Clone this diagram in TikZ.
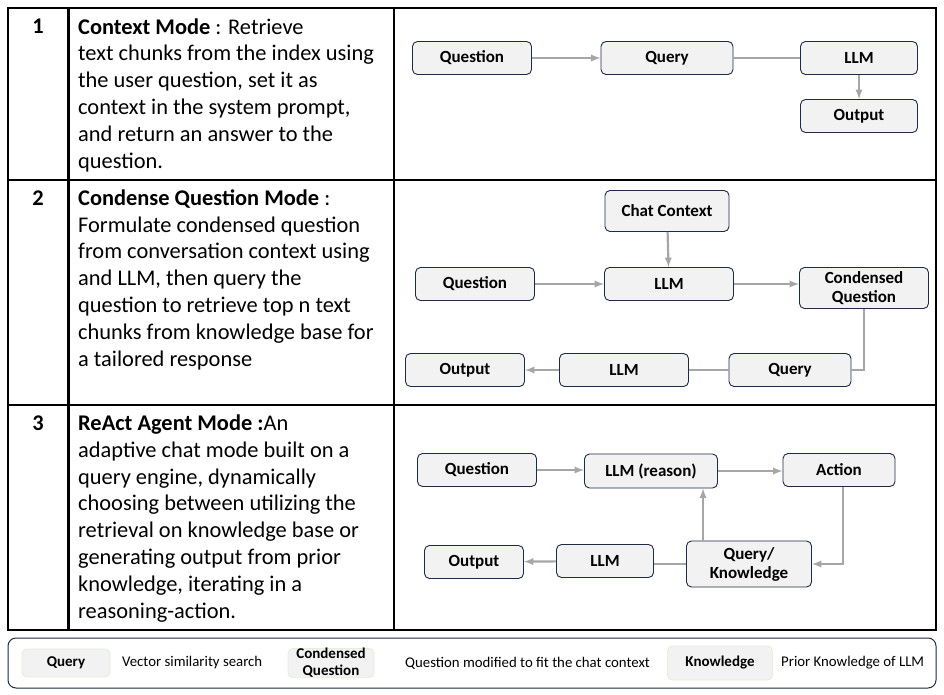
\documentclass[tikz,border=0pt]{standalone}
\usepackage{fontspec}
\setmainfont{Carlito}
\usepackage{xcolor}
\usetikzlibrary{positioning}
\definecolor{boxfill}{HTML}{F2F2F2}
\definecolor{boxline}{HTML}{1F2A44}
\definecolor{flowgray}{HTML}{A6A6A6}
\definecolor{keyline}{HTML}{E2EFD9}
\tikzset{
	stage/.style   = {shape=rectangle, rounded corners=5pt,
		draw=boxline, line width=0.9pt, fill=boxfill,
		align=center, inner sep=0pt,
		font=\fontsize{17}{19}\selectfont\bfseries},
	wh/.style 2 args = {minimum width=#1, minimum height=#2},
	keybox/.style  = {stage, draw=keyline, font=\fontsize{15}{17}\selectfont\bfseries},
	keytext/.style = {anchor=west, inner sep=0pt, font=\fontsize{14.8}{17}\selectfont},
	desc/.style    = {anchor=base west, align=left, inner sep=0pt,
		font=\fontsize{22.4}{26.8}\selectfont},
	num/.style     = {anchor=base, inner sep=0pt, font=\fontsize{22.4}{26.8}\selectfont\bfseries},
	flow/.style    = {draw=flowgray, line width=2.2pt, -latex},
	link/.style    = {draw=flowgray, line width=2.2pt}
}

\begin{document}
\begin{tikzpicture}[x=1pt, y=-1pt]
\useasboundingbox (0,0) rectangle (944,695);

% table grid
\draw[line width=2pt] (8,8) rectangle (936,630);
\draw[line width=2pt] (8,180) -- (936,180);
\draw[line width=2pt] (8,405) -- (936,405);
\draw[line width=3pt] (68,8) -- (68,630);
\draw[line width=1.6pt] (394,8) -- (394,630);

% left column (desc nodes sit on the baseline of their last line)
\node[num] (n1) at (38,34) {1};
\node[num] (n2) at (38,205) {2};
\node[num] (n3) at (38,430) {3};
\node[desc] (d1) at (78,168) {\textbf{Context Mode} : Retrieve\\
	text chunks from the index using\\
	the user question, set it as\\
	context in the system prompt,\\
	and return an answer to the\\
	question.};
\node[desc] (d2) at (78,366) {\textbf{Condense Question Mode} :\\
	Formulate condensed question\\
	from conversation context using\\
	and LLM, then query the\\
	question to retrieve top n text\\
	chunks from knowledge base for\\
	a tailored response};
\node[desc] (d3) at (78,618) {\textbf{ReAct Agent Mode :}An\\
	adaptive chat mode built on a\\
	query engine, dynamically\\
	choosing between utilizing the\\
	retrieval on knowledge base or\\
	generating output from prior\\
	knowledge, iterating in a\\
	reasoning-action.};

% mode 1
\node[stage, wh={119}{33}] (question1) at (472,58) {Question};
\node[stage, wh={132}{33}] (query1) at (667,58) {Query};
\node[stage, wh={117}{33}] (llm1) at (859,58) {LLM};
\node[stage, wh={117}{33}] (output1) at (859,116) {Output};
\draw[flow] (question1) -- (query1);
\draw[link] (query1) -- (llm1);
\draw[flow] (llm1) -- (output1);

% mode 2
\node[stage, wh={124}{41}] (context2) at (667,211) {Chat Context};
\node[stage, wh={119}{33}] (question2) at (475,284) {Question};
\node[stage, wh={129}{33}] (llm2) at (669,284) {LLM};
\node[stage, wh={129}{41}] (condensed2) at (864,288) {Condensed\\Question};
\node[stage, wh={119}{33}] (output2) at (465,370) {Output};
\node[stage, wh={129}{33}] (answer2) at (624,370) {LLM};
\node[stage, wh={122}{33}] (query2) at (790,370) {Query};
\draw[flow] (context2) -- (llm2);
\draw[flow] (question2) -- (llm2);
\draw[flow] (llm2.east) -- (llm2.east -| condensed2.west);
\draw[link] (condensed2.south) |- (query2.east);
\draw[link] (query2) -- (answer2);
\draw[flow] (answer2) -- (output2);

% mode 3
\node[stage, wh={119}{33}] (question3) at (477,470) {Question};
\node[stage, wh={133}{34}] (reason3) at (651,471) {LLM (reason)};
\node[stage, wh={112}{33}] (action3) at (839,470) {Action};
\node[stage, wh={99}{33}] (output3) at (474,562) {Output};
\node[stage, wh={97}{33}] (llm3) at (605,561) {LLM};
\node[stage, wh={125}{46}] (knowledge3) at (749,564) {Query/\\Knowledge};
\draw[flow] (question3.east) -- (question3.east -| reason3.west);
\draw[flow] (reason3.east) -- (reason3.east -| action3.west);
\draw[flow] ([xshift=4pt]action3.south) |- (knowledge3.east);
\draw[flow] ([xshift=-46pt]knowledge3.north) -- ([xshift=-46pt]knowledge3.north |- reason3.south);
\draw[link] (knowledge3.west) -- (knowledge3.west -| llm3.east);
\draw[flow] (llm3) -- (output3);

% legend
\draw[draw=boxline, line width=1pt, rounded corners=8pt] (8,638) rectangle (936,688);
\node[keybox, wh={88}{28}] (keyquery) at (66,663) {Query};
\node[keytext] (txtquery) at (122,663) {Vector similarity search};
\node[keybox, wh={86}{28}] (keycondensed) at (331,663) {Condensed\\Question};
\node[keytext] (txtcondensed) at (405,663) {Question modified to fit the chat context};
\node[keybox, wh={105}{34}] (keyknow) at (720,663) {Knowledge};
\node[keytext] (txtknow) at (781,663) {Prior Knowledge of LLM};
\end{tikzpicture}
\end{document}
